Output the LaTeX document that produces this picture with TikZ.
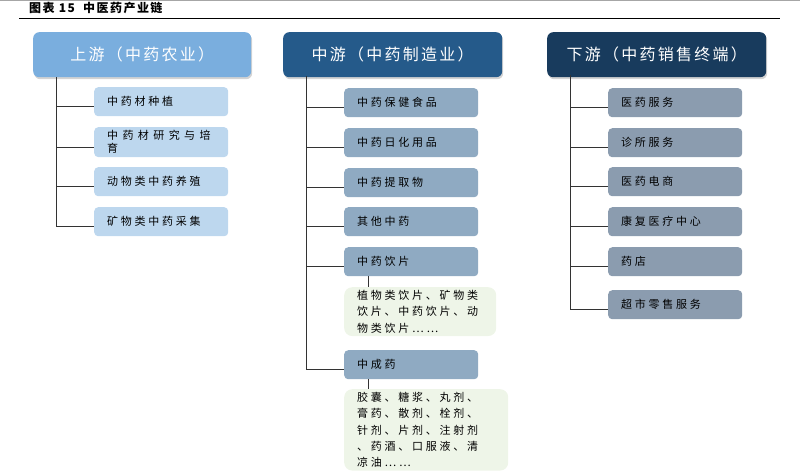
\documentclass[tikz,border=0pt]{standalone}
\usepackage{fontspec}
\setmainfont{Noto Sans CJK SC}
\newfontfamily\cjkwide{Noto Sans CJK SC}[LetterSpace=25]
\newfontfamily\cjkwider{Noto Sans CJK SC}[LetterSpace=40]
\newfontfamily\cjkhead{Noto Sans CJK SC}[LetterSpace=14]
\newfontfamily\cjktitle{Noto Sans CJK SC}[LetterSpace=12]
\usetikzlibrary{shadows}

\definecolor{upHead}{HTML}{7AAEDE}
\definecolor{midHead}{HTML}{255A8A}
\definecolor{downHead}{HTML}{183B5D}
\definecolor{upItem}{HTML}{BDD7EE}
\definecolor{midItem}{HTML}{8FAAC2}
\definecolor{downItem}{HTML}{8B9CAF}
\definecolor{noteGreen}{HTML}{EEF5E8}

\tikzset{
  headbox/.style={anchor=north west, rounded corners=6pt, minimum height=45pt,
    text=white, font=\cjkhead\fontsize{16}{18}\selectfont,
    drop shadow={shadow xshift=1pt, shadow yshift=-2pt, opacity=.35}},
  itembox/.style={anchor=north west, rounded corners=4pt, minimum height=29pt,
    minimum width=134pt, inner xsep=13pt, text width=108pt, align=left,
    font=\cjkwide\fontsize{11}{14}\selectfont},
  notebox/.style={anchor=north west, rounded corners=8pt, fill=noteGreen,
    inner xsep=13pt, inner ysep=3pt, align=left,
    font=\cjkwide\fontsize{11}{16.3}\selectfont},
  link/.style={draw=black!80, line width=.8pt}
}

\begin{document}
\begin{tikzpicture}[x=1pt,y=-1pt]
  \useasboundingbox (0,0) rectangle (800,475);
  \draw[black!35, line width=1.5pt] (0,0.5) -- (800,0.5);
  \node[anchor=west, inner sep=0pt, font=\cjktitle\bfseries\fontsize{12}{14}\selectfont] at (29,8) (title) {图表 15\ \ 中医药产业链};
  \draw[line width=.8pt] (19,18) -- (780,18);

  % upstream
  \node[headbox, fill=upHead, minimum width=218pt] at (33,32) (up) {上游（中药农业）};
  \node[itembox, fill=upItem] at (94,87) (u1) {中药材种植};
  \node[itembox, fill=upItem, font=\cjkwider\fontsize{11}{13}\selectfont] at (94,127) (u2) {中药材研究与培\\育};
  \node[itembox, fill=upItem] at (94,167) (u3) {动物类中药养殖};
  \node[itembox, fill=upItem] at (94,207) (u4) {矿物类中药采集};
  \coordinate (ut) at (56,77);
  \foreach \n in {u1,u2,u3,u4} {
    \coordinate (c) at ([yshift=-5pt]\n.west);
    \draw[link] (ut |- c) -- (c);
  }
  \draw[link] (ut) -- (ut |- c);

  % midstream
  \node[headbox, fill=midHead, minimum width=219pt] at (283,32) (mid) {中游（中药制造业）};
  \node[itembox, fill=midItem] at (344,88) (m1) {中药保健食品};
  \node[itembox, fill=midItem] at (344,128) (m2) {中药日化用品};
  \node[itembox, fill=midItem] at (344,168) (m3) {中药提取物};
  \node[itembox, fill=midItem] at (344,207) (m4) {其他中药};
  \node[itembox, fill=midItem] at (344,247) (m5) {中药饮片};
  \node[notebox, minimum width=152pt, text width=126pt] at (344,287) (n5) {植物类饮片、矿物类\\饮片、中药饮片、动\\物类饮片……};
  \node[itembox, fill=midItem] at (344,350) (m6) {中成药};
  \node[notebox, minimum width=164pt, text width=138pt] at (344,389) (n6) {胶囊、糖浆、丸剂、\\膏药、散剂、栓剂、\\针剂、片剂、注射剂\\、药酒、口服液、清\\凉油……};
  \coordinate (mt) at (306,76);
  \foreach \n in {m1,m2,m3,m4,m5,m6} {
    \coordinate (c) at ([yshift=-5pt]\n.west);
    \draw[link] (mt |- c) -- (c);
  }
  \draw[link] (mt) -- (mt |- c);
  \coordinate (mv) at (368,0);
  \draw[link] (m5.south -| mv) -- (n5.north -| mv);
  \draw[link] (m6.south -| mv) -- (n6.north -| mv);

  % downstream
  \node[headbox, fill=downHead, minimum width=219pt] at (547,32) (down) {下游（中药销售终端）};
  \node[itembox, fill=downItem] at (608,88) (d1) {医药服务};
  \node[itembox, fill=downItem] at (608,128) (d2) {诊所服务};
  \node[itembox, fill=downItem] at (608,167) (d3) {医药电商};
  \node[itembox, fill=downItem] at (608,207) (d4) {康复医疗中心};
  \node[itembox, fill=downItem] at (608,247) (d5) {药店};
  \node[itembox, fill=downItem] at (608,290) (d6) {超市零售服务};
  \coordinate (dt) at (570,75);
  \foreach \n in {d1,d2,d3,d4,d5,d6} {
    \coordinate (c) at ([yshift=-5pt]\n.west);
    \draw[link] (dt |- c) -- (c);
  }
  \draw[link] (dt) -- (dt |- c);
\end{tikzpicture}
\end{document}
